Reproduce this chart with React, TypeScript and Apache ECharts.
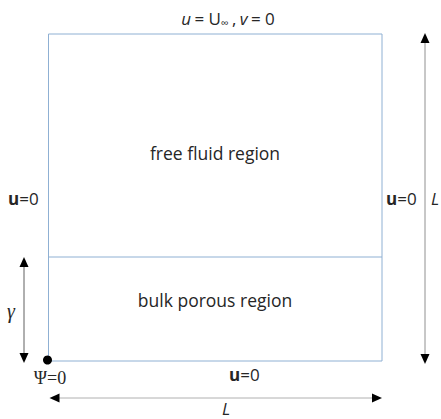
import React, { useEffect, useRef } from "react";
import * as echarts from "echarts";

// Domain (diagram units): square cavity of side L, porous layer of height gamma
const domainL = [1];
const gammaRatio = [0.318];
const regionLabels = ["free fluid region", "bulk porous region"];
const boundaryLabels = ["u = U∞ , v = 0", "u=0", "Ψ=0", "γ", "L"];

const BOX = { x0: 48.5, y0: 34, x1: 382, y1: 361 };
const LINE_BLUE = "#8fb0d3";
const TEXT = "#262626";
const FONT = "'Open Sans', 'Liberation Sans', sans-serif";
const SERIF = "'Liberation Serif', 'DejaVu Serif', serif";
const FS = 17.5;

function arrowHead(tipX: number, tipY: number, dir: "up" | "down" | "left" | "right") {
  const l = 10;
  const w = 4.5;
  let pts: number[][] = [];
  if (dir === "up") pts = [[tipX, tipY], [tipX - w, tipY + l], [tipX + w, tipY + l]];
  if (dir === "down") pts = [[tipX, tipY], [tipX - w, tipY - l], [tipX + w, tipY - l]];
  if (dir === "left") pts = [[tipX, tipY], [tipX + l, tipY - w], [tipX + l, tipY + w]];
  if (dir === "right") pts = [[tipX, tipY], [tipX - l, tipY - w], [tipX - l, tipY + w]];
  return { type: "polygon", shape: { points: pts }, style: { fill: "#000" } };
}

function line(x1: number, y1: number, x2: number, y2: number, stroke: string, w = 1) {
  return { type: "line", shape: { x1, y1, x2, y2 }, style: { stroke, lineWidth: w } };
}

function text(x: number, y: number, t: string | any, extra: any = {}) {
  return {
    type: "text",
    x,
    y,
    style: {
      text: t,
      fill: TEXT,
      font: `${FS}px ${FONT}`,
      align: "center",
      verticalAlign: "middle",
      ...extra,
    },
  };
}

export default function App() {
  const ref = useRef<HTMLDivElement>(null);
  useEffect(() => {
    if (!ref.current) return;
    const chart = echarts.init(ref.current, undefined, { renderer: "svg" });
    const { x0, y0, x1, y1 } = BOX;
    const scaleY = (y1 - y0) / domainL[0];
    const yInterface = y1 - gammaRatio[0] * scaleY;

    const richBase = {
      b: { fontWeight: "bold", fontSize: 17, fontFamily: FONT, fill: TEXT },
      n: { fontSize: 17, fontFamily: FONT, fill: TEXT },
      i: { fontStyle: "italic", fontSize: 17, fontFamily: FONT, fill: TEXT },
      s: { fontSize: 11, fontFamily: FONT, fill: TEXT, verticalAlign: "bottom", padding: [8, 0, 0, 0] },
    };

    const graphic: any[] = [
      // box
      { type: "rect", shape: { x: x0, y: y0, width: x1 - x0, height: y1 - y0 }, style: { fill: "none", stroke: LINE_BLUE, lineWidth: 1 } },
      line(x0, yInterface, x1, yInterface, LINE_BLUE),
      // origin dot
      { type: "circle", shape: { cx: x0 - 1, cy: y1 - 1, r: 4.5 }, style: { fill: "#000" } },
      // right L arrow
      line(425, y0 + 2, 425, y1 - 2, "#909090"),
      arrowHead(425, y0 - 1, "up"),
      arrowHead(425, y1 + 3, "down"),
      // bottom L arrow
      line(x0 + 4, 398, x1 - 4, 398, "#b0b0b0"),
      arrowHead(x0 + 1, 398, "left"),
      arrowHead(x1, 398, "right"),
      // gamma arrow
      line(24, yInterface + 4, 24, y1 - 2, "#606060"),
      arrowHead(24, yInterface, "up"),
      arrowHead(24, y1 + 2, "down"),
      // top label
      {
        type: "text",
        x: 228,
        y: 18,
        style: {
          text: "{i|u} {n|= U}{s|∞} {n|,} {i|v} {n|= 0}",
          rich: richBase,
          align: "center",
          verticalAlign: "middle",
        },
      },
      text(215, 153, regionLabels[0]),
      text(215, 300, regionLabels[1]),
      {
        type: "text",
        x: 8,
        y: 198,
        style: { text: "{b|u}{n|=0}", rich: richBase, align: "left", verticalAlign: "middle" },
      },
      {
        type: "text",
        x: 386,
        y: 198,
        style: { text: "{b|u}{n|=0}", rich: richBase, align: "left", verticalAlign: "middle" },
      },
      {
        type: "text",
        x: 229,
        y: 374,
        style: { text: "{b|u}{n|=0}", rich: richBase, align: "left", verticalAlign: "middle" },
      },
      text(435, 198, boundaryLabels[4], { font: `italic 17px ${FONT}` }),
      text(226, 408, boundaryLabels[4], { font: `italic 17px ${FONT}` }),
      text(11, 311, boundaryLabels[3], { font: `italic 20px ${SERIF}` }),
      text(50, 378, boundaryLabels[2], { font: `18px ${SERIF}` }),
    ];

    chart.setOption({
      animation: false,
      backgroundColor: "#fff",
      graphic,
    });
    return () => chart.dispose();
  }, []);
  return <div ref={ref} style={{ width: 441, height: 419, position: "absolute", left: 0, top: 0 }} />;
}
